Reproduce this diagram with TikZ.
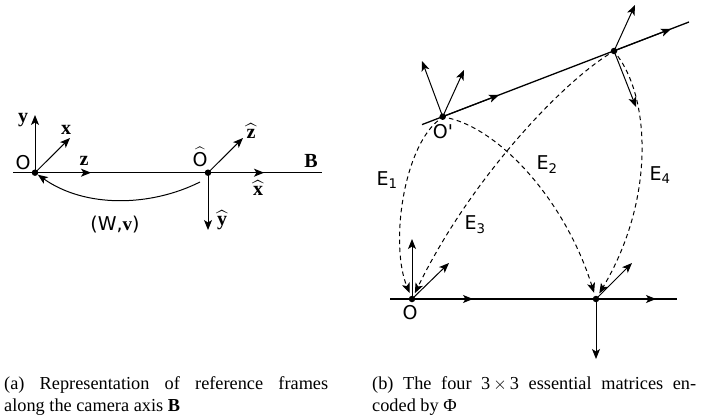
\documentclass[tikz,border=0pt]{standalone}
\usepackage{amsmath}
\usepackage{fontspec}
\setmainfont{Liberation Serif}
\setsansfont{DejaVu Sans}
\usetikzlibrary{arrows.meta,calc}
\tikzset{
    axis/.style={line width=1pt,-{Stealth[length=10pt,width=8pt,inset=2.5pt]}},
    base/.style={line width=1.3pt},
    epipolar/.style={line width=1pt,dash pattern=on 4.5pt off 3.5pt,shorten >=3pt,shorten <=3pt,-{Stealth[length=10pt,width=8pt,inset=2.5pt]}},
    dot/.style={circle,fill=black,inner sep=0pt,minimum size=6.5pt},
    lab/.style={font=\sffamily\fontsize{19}{21}\selectfont,inner sep=0pt},
    vec/.style={font=\bfseries\fontsize{20}{22}\selectfont,inner sep=0pt},
    caption/.style={font=\fontsize{18.3}{21.5}\selectfont,text width=324pt,align=justify,anchor=north west,inner sep=0pt}
}
\begin{document}
\begin{tikzpicture}[x=1pt,y=-1pt]
    \useasboundingbox (0,0) rectangle (718,420);
    % left panel
    \node[dot] (O) at (35,172.7) {};
    \node[dot] (Oh) at (208,172.7) {};
    \coordinate (Bl) at (13,172.7);
    \coordinate (Br) at (322,172.7);
    \draw[base] (Bl) -- (Br);
    \coordinate (yt) at (35,115);
    \coordinate (xt) at (70,138);
    \coordinate (zt) at (91,172.7);
    \coordinate (zh) at (243,138);
    \coordinate (xh) at (264,172.7);
    \coordinate (yh) at (208,230);
    \foreach \t in {yt,xt,zt}
        \draw[axis] (O.center) -- (\t);
    \foreach \t in {zh,xh,yh}
        \draw[axis] (Oh.center) -- (\t);
    \coordinate (cs) at (200,182);
    \draw[axis] (cs) .. controls (150,207) and (85,208) .. (O);
    \node[vec] (ly) at (23,120) {y};
    \node[vec] (lx) at (66,130) {x};
    \node[vec] (lz) at (84,161) {z};
    \node[vec] (lB) at (311,161) {B};
    \node[lab] (lO) at (23,163) {O};
    \node[lab] (lOh) at (200,157) {$\widehat{\text{\sffamily O}}$};
    \node[vec] (lzh) at (251,131) {$\widehat{\mathbf{z}}$};
    \node[vec] (lxh) at (258,188) {$\widehat{\mathbf{x}}$};
    \node[vec] (lyh) at (222,220) {$\widehat{\mathbf{y}}$};
    \node[lab] (lW) at (115,225) {(W,\textbf{\rmfamily v})};
    % right panel
    \node[dot] (Op) at (442.7,116.7) {};
    \node[dot] (P) at (614,51) {};
    \node[dot] (Q) at (412,299) {};
    \node[dot] (R) at (596,299) {};
    \coordinate (Ts) at (422,124.6);
    \coordinate (Te) at (689,22);
    \coordinate (Ul) at (390,299);
    \coordinate (Ur) at (677,299);
    \draw[base] (Ts) -- (Te);
    \draw[base] (Ul) -- (Ur);
    \coordinate (a1) at (499,95);
    \coordinate (a2) at (671,29);
    \coordinate (a3) at (473,299);
    \coordinate (a4) at (656,299);
    \draw[axis] (Op.center) -- (a1);
    \draw[axis] (P.center) -- (a2);
    \draw[axis] (Q.center) -- (a3);
    \draw[axis] (R.center) -- (a4);
    \coordinate (b1) at (422,61);
    \coordinate (b2) at (464,70);
    \coordinate (c1) at (635,5);
    \coordinate (c2) at (636,107);
    \coordinate (d1) at (412,239);
    \coordinate (d2) at (449,263);
    \coordinate (e1) at (632,263);
    \coordinate (e2) at (596,359);
    \foreach \s/\t in {Op/b1,Op/b2,P/c1,P/c2,Q/d1,Q/d2,R/e1,R/e2}
        \draw[axis] (\s.center) -- (\t);
    % dashed curves
    \draw[epipolar] (Op) .. controls (403,150) and (390,245) .. (Q);
    \draw[epipolar] (Op) .. controls (500,130) and (565,200) .. (R);
    \draw[epipolar] (P) .. controls (560,85) and (470,180) .. (Q);
    \draw[epipolar] (P) .. controls (650,100) and (655,200) .. (R);
    \node[lab] (l1) at (387,180) {E$_{\text{\sffamily 1}}$};
    \node[lab] (l2) at (547,165) {E$_{\text{\sffamily 2}}$};
    \node[lab] (l3) at (475,225) {E$_{\text{\sffamily 3}}$};
    \node[lab] (l4) at (660,175) {E$_{\text{\sffamily 4}}$};
    \node[lab] (lOp) at (443,132) {O\textquotesingle};
    \node[lab] (lQ) at (410,313) {O};
    % captions
    \node[caption] (capa) at (4,376.5) {(a) Representation of reference frames\linebreak along the camera axis \textbf{B}};
    \node[caption] (capb) at (372,376.5) {(b) The four 3\,$\times$\,3 essential matrices en-\linebreak coded by Φ};
\end{tikzpicture}
\end{document}
